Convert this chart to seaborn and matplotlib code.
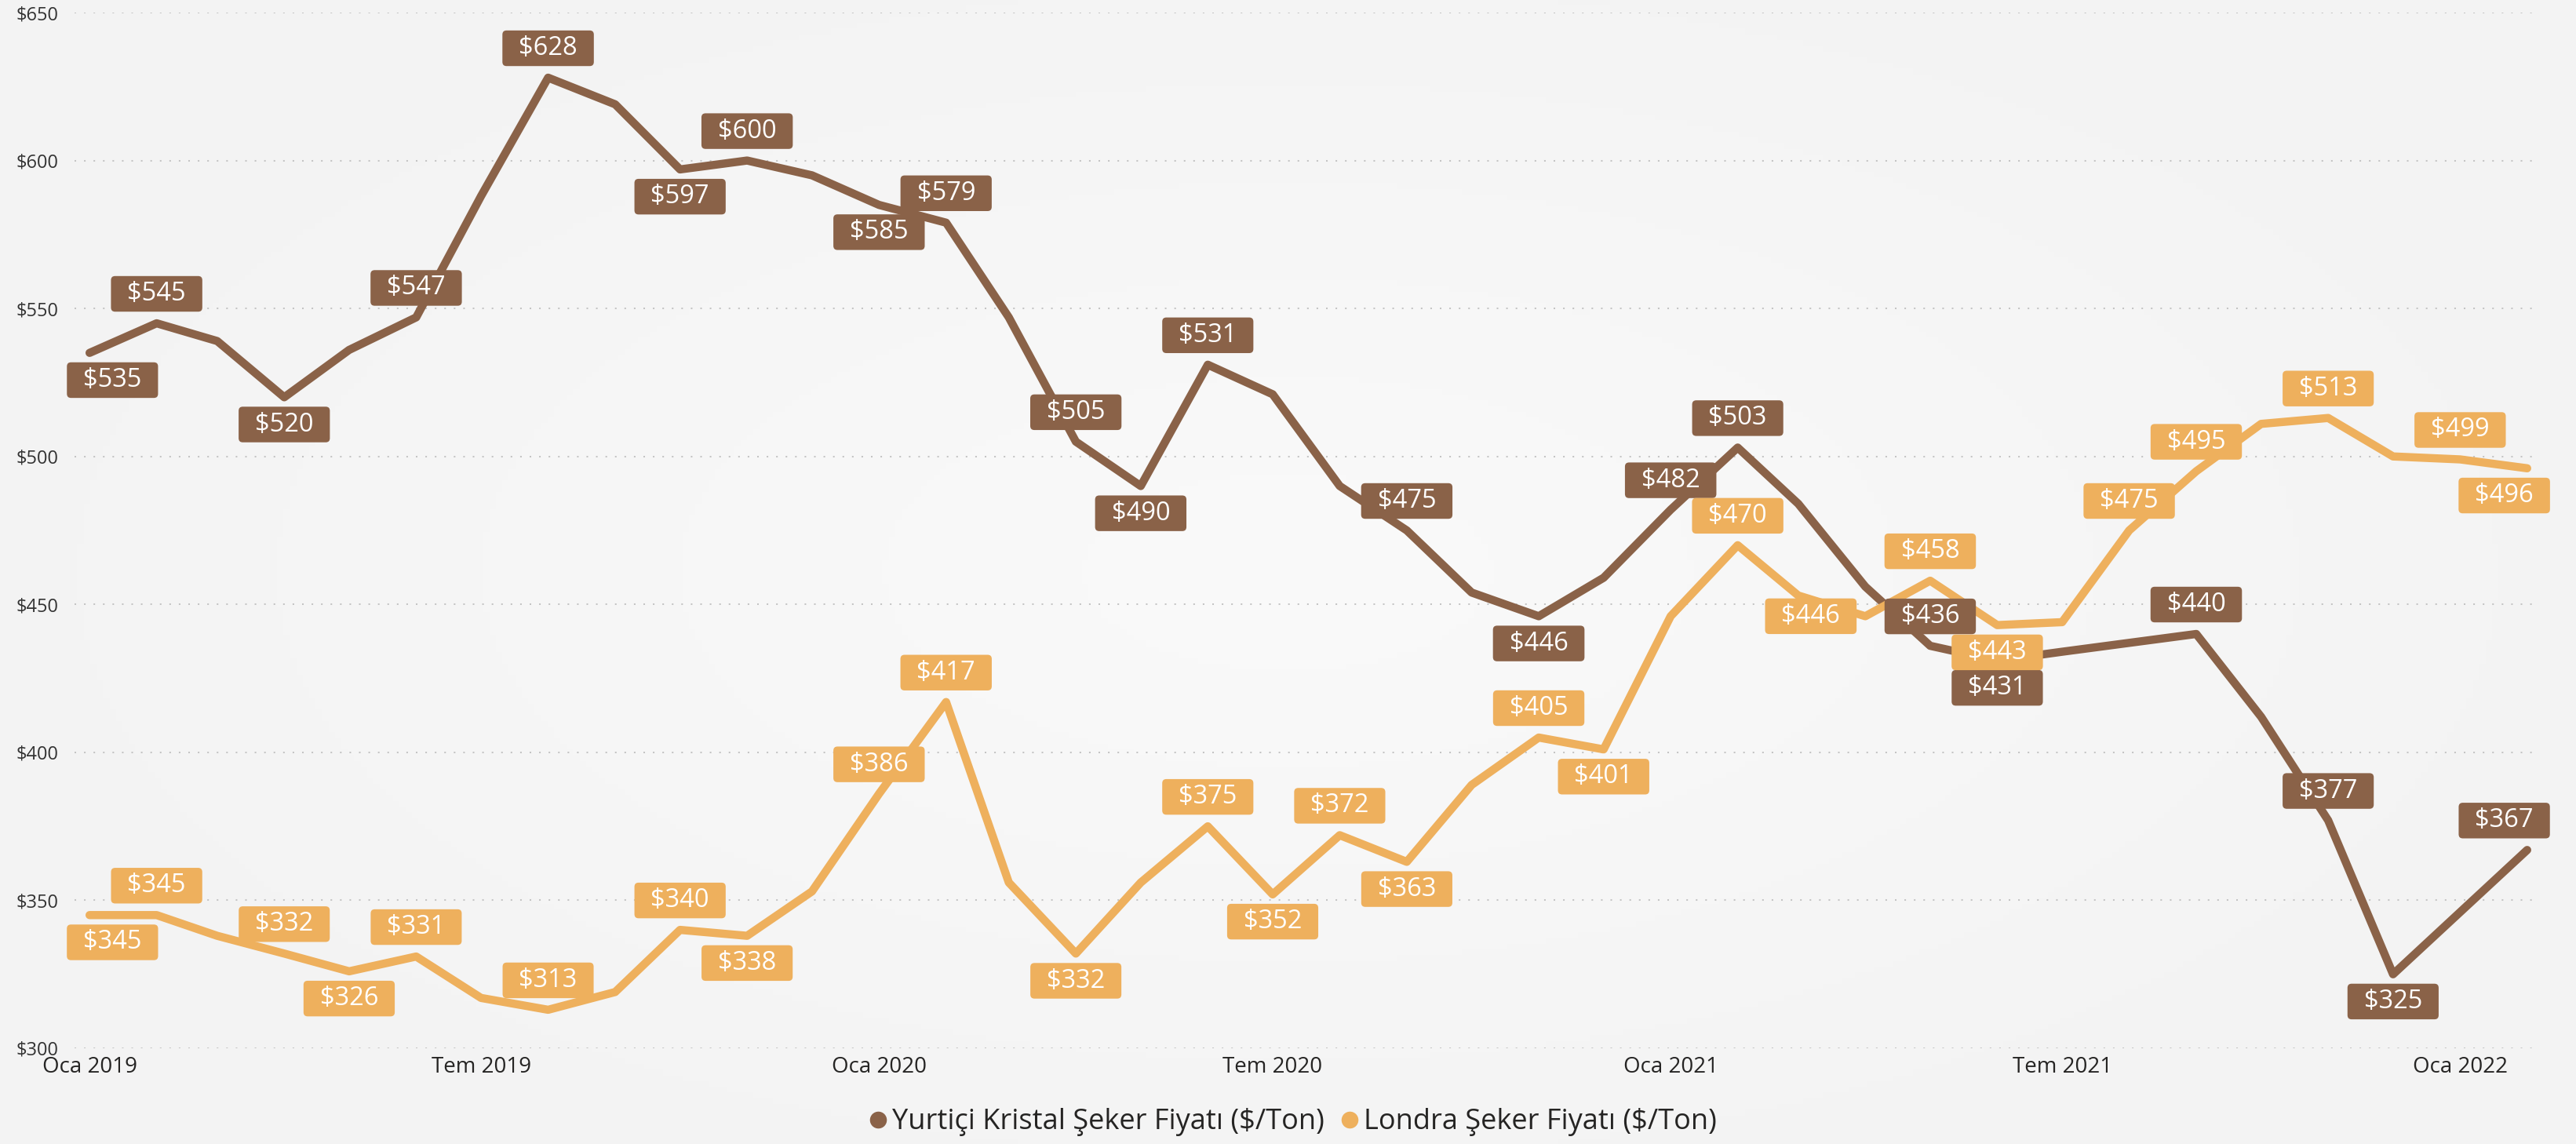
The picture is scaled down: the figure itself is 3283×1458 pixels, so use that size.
import numpy as np
import pandas as pd
import matplotlib
matplotlib.use("Agg")
import matplotlib.pyplot as plt
import seaborn as sns
from matplotlib.patches import BoxStyle
from matplotlib.lines import Line2D

# data (monthly, Oca 2019 - Şub 2022)
months = pd.date_range("2019-01-01", "2022-02-01", freq="MS")
yurtici = [535, 545, 539, 520, 536, 547, 588, 628, 619, 597, 600, 595,
           585, 579, 547, 505, 490, 531, 521, 490, 475, 454, 446, 459,
           482, 503, 484, 456, 436, 431, 434, 437, 440, 412, 377, 325,
           346, 367]
londra = [345, 345, 338, 332, 326, 331, 317, 313, 319, 340, 338, 353,
          386, 417, 356, 332, 356, 375, 352, 372, 363, 389, 405, 401,
          446, 470, 453, 446, 458, 443, 444, 475, 495, 511, 513, 500,
          499, 496]
series_names = ["Yurtiçi Kristal Şeker Fiyatı ($/Ton)", "Londra Şeker Fiyatı ($/Ton)"]
tick_dates = pd.to_datetime(["2019-01-01", "2019-07-01", "2020-01-01", "2020-07-01",
                             "2021-01-01", "2021-07-01", "2022-01-01"])
tick_labels = ["Oca 2019", "Tem 2019", "Oca 2020", "Tem 2020", "Oca 2021", "Tem 2021", "Oca 2022"]
y_ticks = [300, 350, 400, 450, 500, 550, 600, 650]
y_tick_labels = ["$300", "$350", "$400", "$450", "$500", "$550", "$600", "$650"]

colors = ["#8A6248", "#EEB05D"]
bg = "#F6F6F6"

# which points carry a data label and where it sits
labels_yurtici = {0: "below_r", 1: "above", 3: "below", 5: "above", 7: "above", 9: "below",
                  10: "above", 12: "below", 13: "above", 15: "above", 16: "below", 17: "above",
                  20: "above", 22: "below", 24: "above", 25: "above", 28: "above", 29: "below",
                  32: "above", 34: "above", 35: "below", 37: "above_l"}
labels_londra = {0: "below_r", 1: "above", 3: "above", 4: "below", 5: "above", 7: "above",
                 9: "above", 10: "below", 12: "above", 13: "above", 15: "below", 17: "above",
                 18: "below", 19: "above", 20: "below", 22: "above", 23: "below", 25: "above",
                 27: "left", 28: "above", 29: "below", 31: "above", 32: "above", 34: "above",
                 36: "above", 37: "below_l"}
offsets = {"above": (0, 27), "below": (0, -25), "below_r": (21, -25), "above_l": (-21, 27),
           "below_l": (-21, -25), "left": (-50, 0)}

df = pd.DataFrame({
    "Ay": list(months) * 2,
    "Fiyat": yurtici + londra,
    "Seri": [series_names[0]] * len(months) + [series_names[1]] * len(months),
})

sns.set_theme(style="white")
plt.rcParams["font.family"] = ["Open Sans", "DejaVu Sans"]
plt.rcParams["text.parse_math"] = False

_round = BoxStyle.Round(pad=0, rounding_size=0.16)


def label_box(x0, y0, width, height, mutation_size):
    # wider horizontal padding than vertical, like the Power BI labels
    px, py = 0.64 * mutation_size, 0.19 * mutation_size
    return _round(x0 - px, y0 - py, width + 2 * px, height + 2 * py, mutation_size)


fig = plt.figure(figsize=(32.83, 14.58), dpi=100, facecolor=bg)

# faint radial shading of the report background
bg_ax = fig.add_axes([0, 0, 1, 1], zorder=-10)
gx, gy = np.meshgrid(np.linspace(-1, 1, 400), np.linspace(-1, 1, 200))
shade = np.clip(np.sqrt((gx / 1.1) ** 2 + (gy / 1.2) ** 2), 0, 1)
bg_ax.imshow(shade, cmap=matplotlib.colors.LinearSegmentedColormap.from_list("bg", ["#FAFAFA", "#F3F3F3"]),
             aspect="auto", extent=(0, 1, 0, 1), vmin=0, vmax=1)
bg_ax.axis("off")

ax = fig.add_axes([0.0289, 0.0837, 0.9555, 0.9053])
ax.patch.set_alpha(0)

sns.lineplot(data=df, x="Ay", y="Fiyat", hue="Seri", palette=colors, linewidth=7.5,
             legend=False, ax=ax, solid_capstyle="round", solid_joinstyle="round", zorder=3)

for values, spec, color in [(yurtici, labels_yurtici, colors[0]), (londra, labels_londra, colors[1])]:
    for i, pos in spec.items():
        ax.annotate(f"${values[i]}", xy=(months[i], values[i]), xytext=offsets[pos],
                    textcoords="offset points", ha="center", va="center",
                    fontsize=23.5, color="white", zorder=6, annotation_clip=False,
                    bbox=dict(boxstyle=label_box, fc=color, ec="none"))

ax.set_ylim(300, 650)
ax.set_xlim(months[0] - pd.Timedelta(days=7), months[-1] + pd.Timedelta(days=4))
ax.set_yticks(y_ticks)
ax.set_yticklabels(y_tick_labels)
ax.set_xticks(tick_dates)
ax.set_xticklabels(tick_labels)
ax.tick_params(axis="y", length=0, pad=15, labelsize=17, labelcolor="#333333")
ax.tick_params(axis="x", length=0, pad=7, labelsize=20, labelcolor="#252423")
ax.grid(axis="y", color="#C4C4C4", linestyle=(0, (1, 5)), linewidth=1.45)
ax.grid(axis="x", visible=False)
ax.set_xlabel("")
ax.set_ylabel("")
sns.despine(ax=ax, left=True, bottom=True)

handles = [Line2D([], [], marker="o", linestyle="", markersize=14.5, color=c) for c in colors]
fig.legend(handles, series_names, loc="center", bbox_to_anchor=(0.502, 0.019), ncol=2,
           frameon=False, fontsize=26, handlelength=0.6, handletextpad=0.2,
           columnspacing=0.6, labelcolor="#252423")

fig.savefig("out.png", dpi=100, facecolor=bg)
